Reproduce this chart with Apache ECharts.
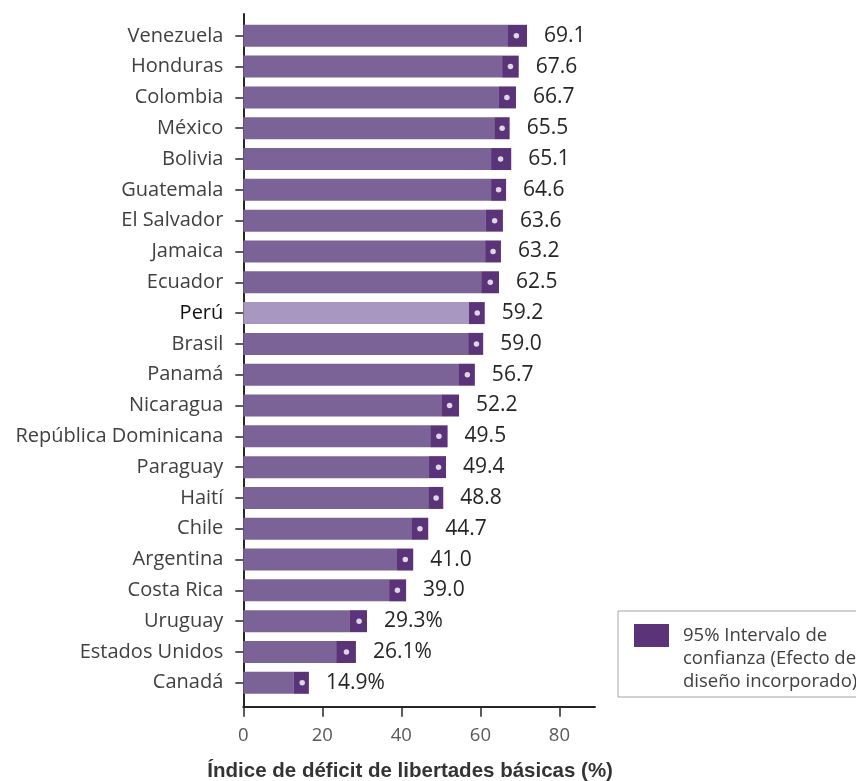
<!DOCTYPE html>
<html>
<head>
<meta charset="utf-8">
<script src="https://cdn.jsdelivr.net/npm/echarts@6/dist/echarts.min.js"></script>
<style>
html,body{margin:0;padding:0;background:#fff;}
#chart{width:856px;height:781px;}
</style>
</head>
<body>
<div id="chart"></div>
<script>
const countries = ['Venezuela','Honduras','Colombia','México','Bolivia','Guatemala','El Salvador','Jamaica','Ecuador','Perú','Brasil','Panamá','Nicaragua','República Dominicana','Paraguay','Haití','Chile','Argentina','Costa Rica','Uruguay','Estados Unidos','Canadá'];
const points = [69.1,67.6,66.7,65.5,65.1,64.6,63.6,63.2,62.5,59.2,59.0,56.7,52.2,49.5,49.4,48.8,44.7,41.0,39.0,29.3,26.1,14.9];
const lower = [66.8,65.5,64.7,63.5,62.7,62.7,61.4,61.2,60.2,57.1,56.9,54.4,50.1,47.3,47.0,46.8,42.5,38.9,36.9,27.0,23.5,12.8];
const upper = [71.8,69.7,69.0,67.4,67.8,66.5,65.7,65.2,64.7,61.1,60.7,58.6,54.6,51.7,51.3,50.6,46.8,43.0,41.2,31.3,28.5,16.6];
const valueLabels = ['69.1','67.6','66.7','65.5','65.1','64.6','63.6','63.2','62.5','59.2','59.0','56.7','52.2','49.5','49.4','48.8','44.7','41.0','39.0','29.3%','26.1%','14.9%'];
const xTicks = [0,20,40,60,80];
const highlight = 'Perú';
const ciName = '95% Intervalo de confianza (Efecto de diseño incorporado)';
const legendText = '95% Intervalo de\nconfianza (Efecto de\ndiseño incorporado)';
const xTitle = 'Índice de déficit de libertades básicas (%)';

const LIGHT = '#7b6397', LIGHT_HI = '#a898bf', DARK = '#5b3379';
const FONT = '"Open Sans", "Noto Sans", sans-serif';

const chart = echarts.init(document.getElementById('chart'), null, {renderer:'canvas'});

const gridLeft = 243.3, gridW = 351.7;
const option = {
  animation: false,
  backgroundColor: '#ffffff',
  textStyle: {fontFamily: FONT},
  grid: [
    {left: gridLeft, width: gridW, top: 20.4, height: 677.8, outerBoundsMode: 'none', containLabel: false},
    {left: gridLeft, width: gridW, top: 14, height: 692.7, outerBoundsMode: 'none', containLabel: false}
  ],
  xAxis: [
    {gridIndex: 0, type: 'value', min: 0, max: 89, show: false},
    {gridIndex: 1, type: 'value', min: 0, max: 89,
     axisLine: {show: true, lineStyle: {color: '#262626', width: 2}},
     axisTick: {show: true, length: 10, customValues: xTicks, lineStyle: {color: '#262626', width: 1.5}},
     axisLabel: {customValues: xTicks, color: '#595959', fontSize: 18.5, margin: 20, fontFamily: FONT},
     splitLine: {show: false},
     name: xTitle, nameLocation: 'middle', nameGap: 54,
     nameTextStyle: {fontFamily: '"Liberation Sans", Arial, sans-serif', fontWeight: 'bold', fontSize: 20.5, color: '#333333', padding: [0, 18, 0, 0]}
    }
  ],
  yAxis: [
    {gridIndex: 0, type: 'category', inverse: true,
     data: countries.map(c => c === highlight ? {value: c, textStyle: {color: '#111111'}} : c),
     axisLine: {show: false},
     axisTick: {show: true, alignWithLabel: true, length: 8, lineStyle: {color: '#262626', width: 1.5}},
     axisLabel: {color: '#404040', fontSize: 20, margin: 20, fontFamily: FONT}
    },
    {gridIndex: 1, type: 'value', min: 0, max: 1,
     axisLine: {show: true, lineStyle: {color: '#262626', width: 2}},
     axisTick: {show: false}, axisLabel: {show: false}, splitLine: {show: false}
    }
  ],
  legend: {
    data: [{name: ciName, icon: 'path://M0,0L35,0L35,23L0,23Z M35,69'}],
    left: 618, top: 611,
    orient: 'vertical',
    padding: [13, 8, 4, 16],
    itemWidth: 35, itemHeight: 69,
    backgroundColor: '#ffffff',
    borderColor: '#a6a6a6', borderWidth: 1,
    formatter: () => legendText,
    textStyle: {color: '#404040', fontSize: 18.5, lineHeight: 23, padding: [0, 0, 0, 9], fontFamily: FONT},
    selectedMode: false
  },
  series: [
    {type: 'bar', name: 'base', xAxisIndex: 0, yAxisIndex: 0, stack: 'ci', barWidth: 22,
     data: lower.map((v, i) => ({value: v, itemStyle: {color: countries[i] === highlight ? LIGHT_HI : LIGHT}})),
     itemStyle: {color: LIGHT}, silent: true},
    {type: 'bar', name: ciName, xAxisIndex: 0, yAxisIndex: 0, stack: 'ci', barWidth: 22,
     data: upper.map((v, i) => +(v - lower[i]).toFixed(2)),
     itemStyle: {color: DARK}, silent: true,
     label: {show: true, position: 'right', distance: 17, color: '#262626', fontSize: 21, fontFamily: FONT,
             formatter: p => valueLabels[p.dataIndex]}},
    {type: 'scatter', name: 'punto', xAxisIndex: 0, yAxisIndex: 0, symbol: 'circle', symbolSize: 5.5,
     data: points.map((v, i) => [v, i]), itemStyle: {color: '#ffffff'}, z: 5, silent: true}
  ]
};
chart.setOption(option);
</script>
</body>
</html>
